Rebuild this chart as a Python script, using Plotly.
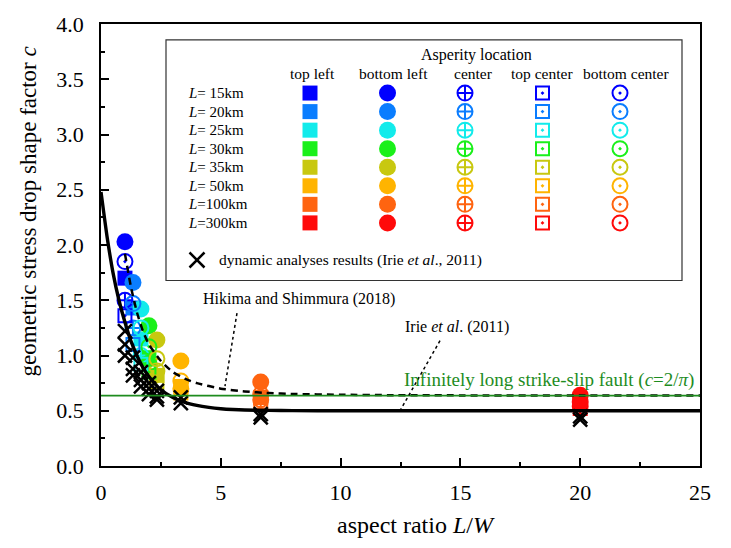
import numpy as np
import plotly.graph_objects as go

# ---------------- data ----------------
L_km = [15, 20, 25, 30, 35, 50, 100, 300]
W_km = 15
L_labels = ["<i>L</i>= 15km", "<i>L</i>= 20km", "<i>L</i>= 25km", "<i>L</i>= 30km",
            "<i>L</i>= 35km", "<i>L</i>= 50km", "<i>L</i>=100km", "<i>L</i>=300km"]
L_colors = ["#0000FF", "#0A7DFF", "#12EBEB", "#1AF01A", "#C8C810", "#FFB400", "#FF6410", "#FF0A0A"]

locations = ["top left", "bottom left", "center", "top center", "bottom center"]
c_top_left = [1.70, 1.43, 1.15, 0.98, 0.82, 0.72, 0.62, 0.56]
c_bottom_left = [2.03, 1.66, 1.42, 1.27, 1.14, 0.95, 0.76, 0.64]
c_center = [1.50, 1.25, 1.00, 0.93, 0.86, 0.70, 0.60, 0.54]
c_top_center = [1.36, 1.10, 0.92, 0.85, 0.76, 0.66, 0.58, 0.52]
c_bottom_center = [1.85, 1.47, 1.25, 1.08, 0.97, 0.77, 0.65, 0.58]

# dynamic analyses results (Irie et al., 2011)
dyn_L = [15, 15, 15, 20, 20, 20, 25, 25, 25, 30, 30, 30, 35, 35, 35, 50, 50, 100, 100, 300, 300]
dyn_c = [1.22, 1.10, 1.00, 0.98, 0.88, 0.82, 0.85, 0.78, 0.72, 0.75, 0.70, 0.65,
         0.68, 0.63, 0.60, 0.62, 0.57, 0.47, 0.44, 0.45, 0.42]

# Irie et al. (2011) curve
irie_x = [0, 0.25, 0.5, 0.75, 1.0, 1.25, 1.5, 1.75, 2.0, 2.5, 3.0, 3.5, 4.0, 4.5, 5.0, 5.5,
          6.0, 7.0, 8.0, 10, 15, 20, 25]
irie_c = [2.48, 2.08, 1.75, 1.50, 1.30, 1.13, 1.00, 0.89, 0.81, 0.69, 0.62, 0.575, 0.548, 0.53,
          0.518, 0.511, 0.507, 0.503, 0.501, 0.50, 0.50, 0.50, 0.50]

# Hikima and Shimmura (2018) curve
hs_x = [1.0, 1.25, 1.5, 1.75, 2.0, 2.5, 3.0, 3.5, 4.0, 5.0, 6.0, 7.0, 8.0, 10, 12, 15, 20, 25]
hs_c = [1.92, 1.62, 1.39, 1.22, 1.10, 0.95, 0.85, 0.79, 0.75, 0.70, 0.675, 0.66, 0.652,
        0.645, 0.641, 0.639, 0.638, 0.638]

c_infinite = 2 / np.pi

# ---------------- layout helpers ----------------
W, H = 731, 548
ML, MR, MT, MB = 101, 31, 18, 82
PW, PH = W - ML - MR, H - MT - MB
FONT = "Liberation Serif"


def pxx(px):
    return (px - ML) / PW


def pxy(py):
    return (H - MB - py) / PH


aspect = [L / W_km for L in L_km]
dyn_x = [L / W_km for L in dyn_L]

fig = go.Figure()

series = [
    (c_top_left, "square", 15, 0),
    (c_bottom_left, "circle", 17, 0),
    (c_center, "circle-cross-open", 15, 2),
    (c_top_center, "square-open-dot", 13, 2),
    (c_bottom_center, "circle-open-dot", 15, 2),
]

for vals, sym, sz, lw in series:
    fig.add_trace(go.Scatter(
        x=aspect, y=vals, mode="markers", showlegend=False, cliponaxis=False,
        marker=dict(symbol=sym, size=sz, color=L_colors,
                    line=dict(width=lw, color=L_colors) if lw else dict(width=0)),
    ))

fig.add_trace(go.Scatter(
    x=dyn_x, y=dyn_c, mode="markers", showlegend=False,
    marker=dict(symbol="x-thin-open", size=14, color="black", line=dict(width=2.5, color="black")),
))

fig.add_trace(go.Scatter(
    x=hs_x, y=hs_c, mode="lines", showlegend=False,
    line=dict(color="black", width=2.5, dash="7px,5px", shape="spline", smoothing=0.5),
))
fig.add_trace(go.Scatter(
    x=irie_x, y=irie_c, mode="lines", showlegend=False,
    line=dict(color="black", width=3.4, shape="spline", smoothing=0.5),
))

# ---------------- in-plot legend (table) ----------------
col_px0, col_dpx = 310, 77.5
row_py0, row_dpy = 88, 18.8
x2_r0 = -(col_px0 - ML) / col_dpx
x2_r1 = x2_r0 + PW / col_dpx
y2_top = -(row_py0 - MT) / row_dpy
y2_bot = y2_top + PH / row_dpy

rows = list(range(len(L_km)))
for ci, (vals, sym, sz, lw) in enumerate(series):
    fig.add_trace(go.Scatter(
        x=[ci] * len(rows), y=rows, mode="markers", xaxis="x2", yaxis="y2", showlegend=False,
        marker=dict(symbol=sym, size=sz, color=L_colors,
                    line=dict(width=lw, color=L_colors) if lw else dict(width=0)),
    ))

cross_row = len(L_km) + 1
fig.add_trace(go.Scatter(
    x=[(197 - col_px0) / col_dpx], y=[cross_row], mode="markers", xaxis="x2", yaxis="y2",
    showlegend=False,
    marker=dict(symbol="x-thin-open", size=15, color="black", line=dict(width=2.5, color="black")),
))

header_px = [312, 393, 473, 542, 626]

annotations = []
for ri, lab in enumerate(L_labels):
    annotations.append(dict(text=lab, xref="paper", yref="y2", x=pxx(186), y=ri,
                            xanchor="left", yanchor="middle", showarrow=False,
                            font=dict(family=FONT, size=15, color="black")))
for loc, hx in zip(locations, header_px):
    annotations.append(dict(text=loc, xref="paper", yref="paper", x=pxx(hx), y=pxy(68),
                            xanchor="center", yanchor="middle", showarrow=False,
                            font=dict(family=FONT, size=15.5, color="black")))
annotations.append(dict(text="Asperity location", xref="paper", yref="paper", x=pxx(476), y=pxy(49),
                        xanchor="center", yanchor="middle", showarrow=False,
                        font=dict(family=FONT, size=16, color="black")))
annotations.append(dict(text="dynamic analyses results (Irie <i>et al</i>., 2011)", xref="paper", yref="y2",
                        x=pxx(217), y=cross_row, xanchor="left", yanchor="middle", showarrow=False,
                        font=dict(family=FONT, size=15.5, color="black")))

# chart annotations
annotations.append(dict(text="Hikima and Shimmura (2018)", xref="paper", yref="paper",
                        x=pxx(299), y=pxy(297), xanchor="center", yanchor="middle", showarrow=False,
                        font=dict(family=FONT, size=16, color="black")))
annotations.append(dict(text="Irie <i>et al</i>. (2011)", xref="paper", yref="paper",
                        x=pxx(457), y=pxy(325), xanchor="center", yanchor="middle", showarrow=False,
                        font=dict(family=FONT, size=16, color="black")))
annotations.append(dict(text="Infinitely long strike-slip fault (<i>c</i>=2/<i>π</i>)", xref="paper",
                        yref="paper", x=pxx(549), y=pxy(379), xanchor="center", yanchor="middle",
                        showarrow=False, font=dict(family=FONT, size=19, color="#1E8C1E")))
# axis titles
annotations.append(dict(text="geometric stress drop shape factor <i>c</i>", xref="paper", yref="paper",
                        x=pxx(28), y=pxy(208), textangle=-90, xanchor="center", yanchor="middle",
                        showarrow=False, font=dict(family=FONT, size=23, color="black")))
annotations.append(dict(text="aspect ratio <i>L</i>/<i>W</i>", xref="paper", yref="paper",
                        x=pxx(416), y=pxy(526), xanchor="center", yanchor="middle",
                        showarrow=False, font=dict(family=FONT, size=24, color="black")))

shapes = [
    dict(type="line", xref="paper", yref="y", x0=0, x1=1, y0=c_infinite, y1=c_infinite,
         line=dict(color="#1E8C1E", width=1.6), layer="above"),
    dict(type="rect", xref="paper", yref="paper", x0=pxx(166), x1=pxx(682), y0=pxy(278), y1=pxy(34),
         line=dict(color="#333333", width=1.2)),
    dict(type="line", xref="paper", yref="paper", x0=pxx(237), y0=pxy(311), x1=pxx(225), y1=pxy(385),
         line=dict(color="black", width=1.5, dash="dot")),
    dict(type="line", xref="paper", yref="paper", x0=pxx(440), y0=pxy(339), x1=pxx(400), y1=pxy(410),
         line=dict(color="black", width=1.5, dash="dot")),
]

axis_common = dict(
    showgrid=False, zeroline=False, showline=True, linecolor="black", linewidth=1.5,
    mirror=True, ticks="inside", ticklen=8, tickwidth=1.5, tickcolor="black",
    tickfont=dict(family=FONT, size=22, color="black"),
)

fig.update_layout(
    width=W, height=H, autosize=False,
    margin=dict(l=ML, r=MR, t=MT, b=MB),
    paper_bgcolor="white", plot_bgcolor="white",
    xaxis=dict(range=[0, 25], tick0=0, dtick=5,
               minor=dict(dtick=2.5, ticks="inside", ticklen=4, tickwidth=1.5, tickcolor="black"),
               ticklabelstandoff=6, **axis_common),
    yaxis=dict(range=[0, 4], tick0=0, dtick=0.5, tickformat=".1f",
               minor=dict(dtick=0.25, ticks="inside", ticklen=4, tickwidth=1.5, tickcolor="black"),
               ticklabelstandoff=11, **axis_common),
    xaxis2=dict(overlaying="x", range=[x2_r0, x2_r1], visible=False),
    yaxis2=dict(overlaying="y", range=[y2_bot, y2_top], visible=False),
    annotations=annotations,
    shapes=shapes,
    showlegend=False,
)

fig.write_html("out.html")
